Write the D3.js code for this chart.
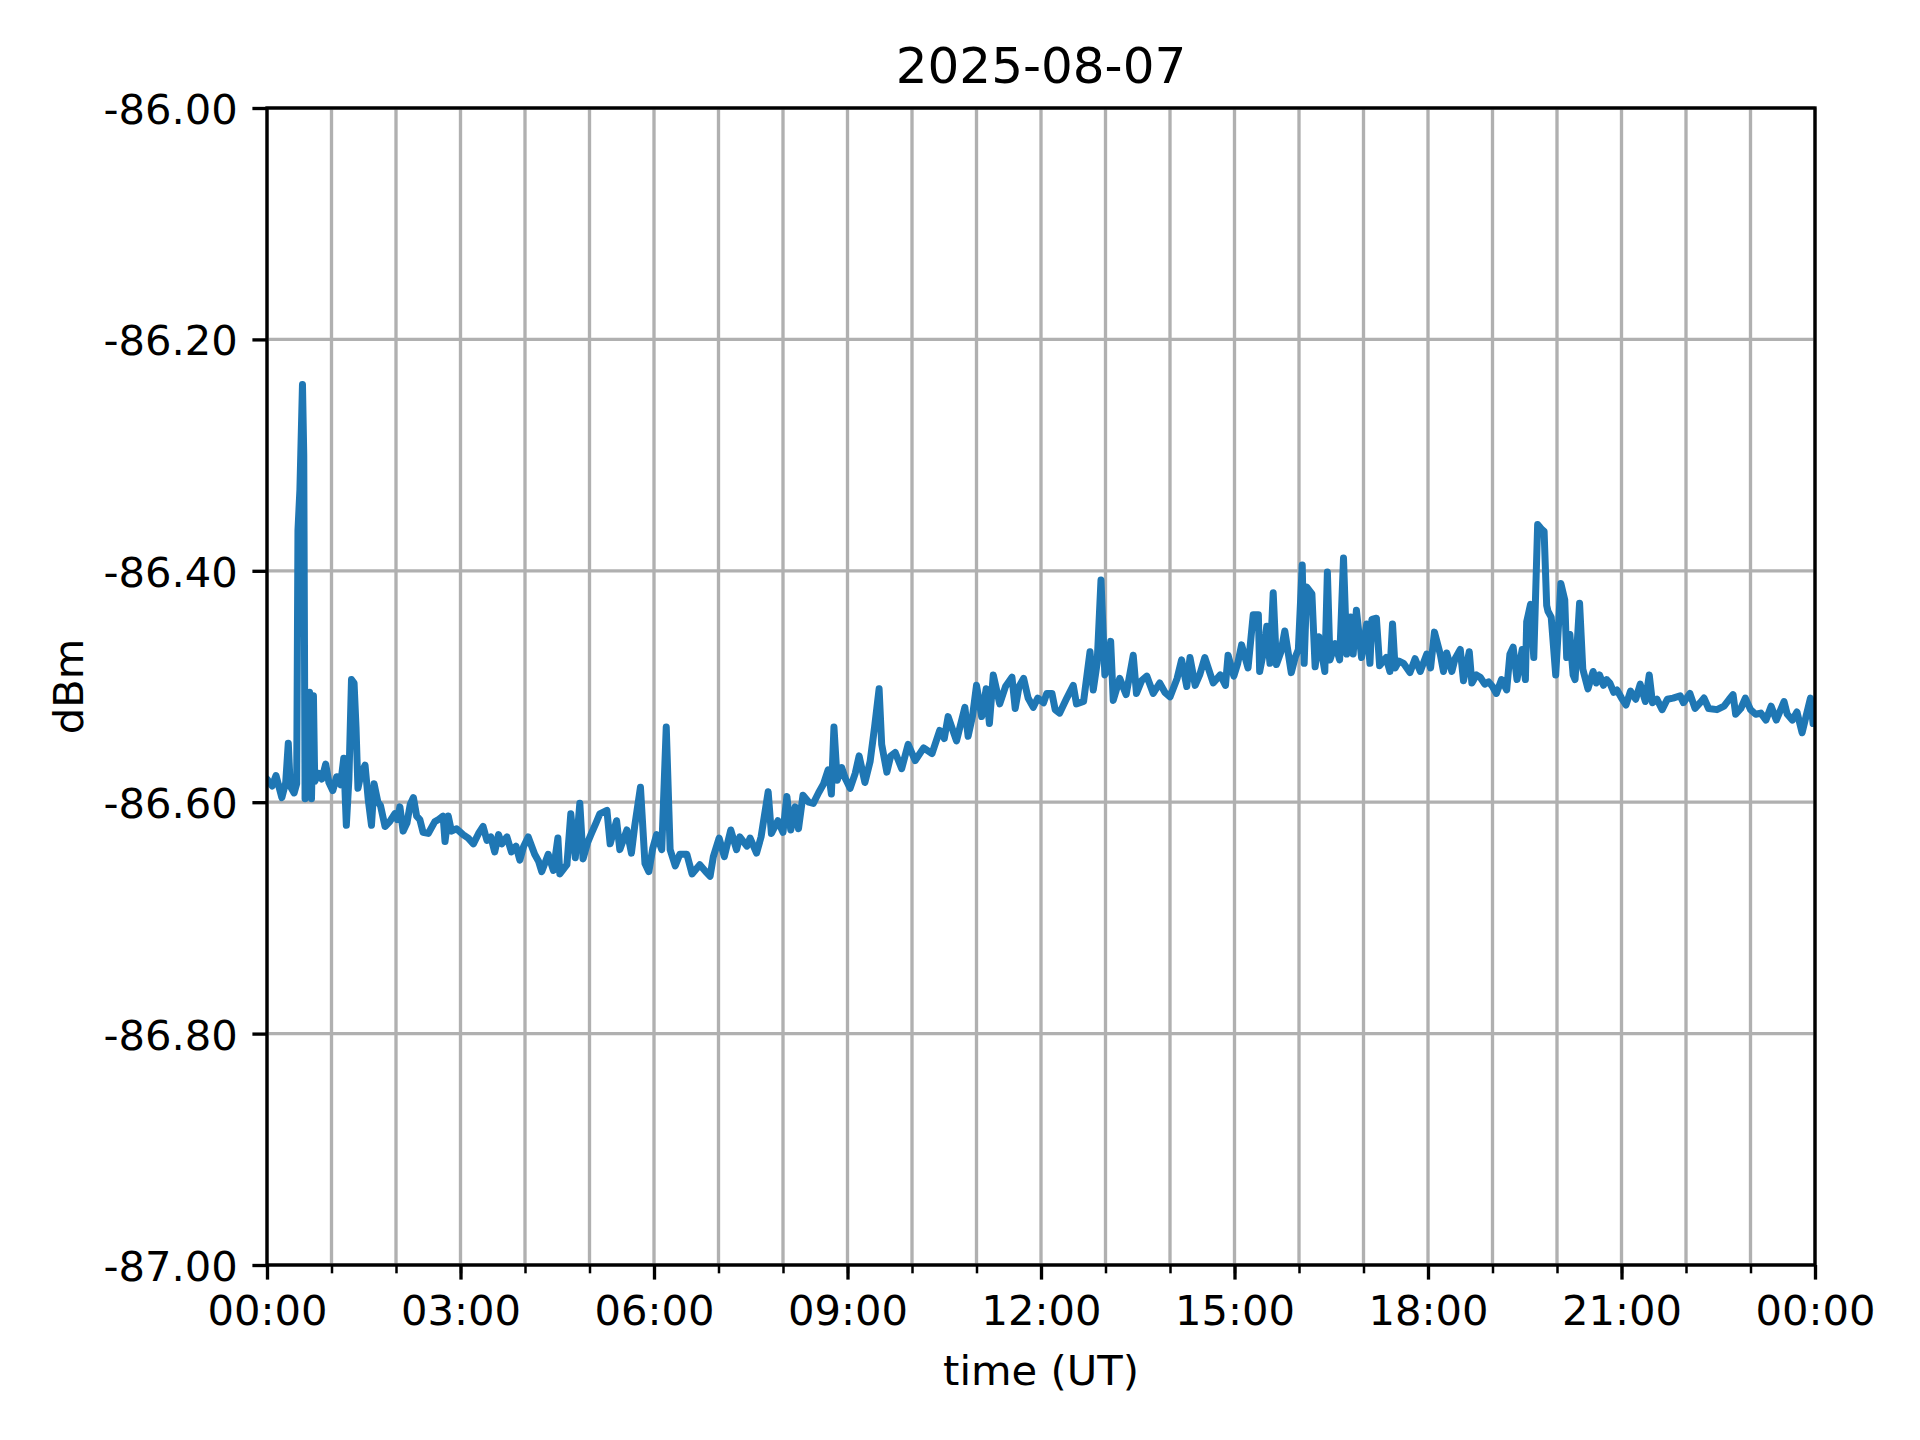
<!DOCTYPE html>
<html>
<head>
<meta charset="utf-8">
<script src="https://cdn.jsdelivr.net/npm/d3@7"></script>
<style>
  body { margin: 0; background: #fff; }
  text { font-family: "DejaVu Sans", sans-serif; fill: #000; }
</style>
</head>
<body>
<div id="chart"></div>
<script>
// values: hour of day (UT) and level in dBm
const hours = [
  0.00, 0.08, 0.14, 0.23, 0.29, 0.33, 0.36, 0.42, 0.46, 0.48, 0.51, 0.55, 0.57, 0.59, 0.63, 0.66, 0.69, 0.72, 0.74, 0.80,
  0.85, 0.91, 0.96, 1.02, 1.08, 1.14, 1.19, 1.23, 1.27, 1.31, 1.35, 1.38, 1.41, 1.46, 1.52, 1.57, 1.62, 1.66, 1.72, 1.76,
  1.83, 1.90, 1.98, 2.02, 2.06, 2.11, 2.17, 2.22, 2.27, 2.32, 2.37, 2.42, 2.50, 2.60, 2.66, 2.73, 2.76, 2.81, 2.86, 2.94,
  3.04, 3.12, 3.20, 3.28, 3.35, 3.41, 3.47, 3.53, 3.59, 3.64, 3.72, 3.79, 3.86, 3.92, 3.98, 4.05, 4.15, 4.21, 4.26, 4.36,
  4.44, 4.51, 4.54, 4.65, 4.71, 4.78, 4.85, 4.90, 4.97, 5.03, 5.10, 5.16, 5.27, 5.32, 5.42, 5.47, 5.58, 5.65, 5.70, 5.79,
  5.86, 5.92, 5.98, 6.04, 6.12, 6.19, 6.25, 6.33, 6.40, 6.51, 6.59, 6.71, 6.80, 6.87, 6.92, 7.01, 7.09, 7.19, 7.28, 7.33,
  7.44, 7.49, 7.59, 7.66, 7.77, 7.82, 7.92, 8.00, 8.06, 8.12, 8.19, 8.24, 8.31, 8.40, 8.47, 8.55, 8.63, 8.70, 8.75, 8.79,
  8.84, 8.91, 8.97, 9.04, 9.12, 9.18, 9.27, 9.35, 9.42, 9.49, 9.53, 9.61, 9.67, 9.74, 9.84, 9.94, 10.05, 10.18, 10.31, 10.43,
  10.50, 10.56, 10.69, 10.82, 10.87, 10.94, 11.00, 11.08, 11.15, 11.20, 11.26, 11.36, 11.45, 11.55, 11.60, 11.66, 11.73, 11.80, 11.88, 11.95,
  12.04, 12.09, 12.17, 12.22, 12.29, 12.40, 12.50, 12.55, 12.66, 12.76, 12.81, 12.87, 12.93, 12.99, 13.04, 13.08, 13.12, 13.22, 13.32, 13.43,
  13.48, 13.56, 13.64, 13.74, 13.84, 13.92, 14.00, 14.11, 14.18, 14.26, 14.31, 14.39, 14.46, 14.54, 14.67, 14.78, 14.86, 14.90, 14.99, 15.05,
  15.11, 15.21, 15.29, 15.37, 15.39, 15.45, 15.50, 15.55, 15.60, 15.65, 15.72, 15.78, 15.88, 15.94, 15.99, 16.05, 16.08, 16.12, 16.20, 16.25,
  16.31, 16.40, 16.44, 16.48, 16.56, 16.63, 16.69, 16.74, 16.80, 16.84, 16.89, 16.97, 17.05, 17.10, 17.13, 17.20, 17.25, 17.35, 17.41, 17.45,
  17.49, 17.55, 17.62, 17.72, 17.80, 17.88, 17.98, 18.04, 18.10, 18.19, 18.24, 18.29, 18.37, 18.42, 18.50, 18.55, 18.64, 18.68, 18.75, 18.81,
  18.88, 18.94, 19.00, 19.06, 19.14, 19.22, 19.27, 19.32, 19.38, 19.46, 19.51, 19.53, 19.59, 19.64, 19.70, 19.73, 19.76, 19.80, 19.84, 19.86,
  19.91, 19.98, 20.06, 20.12, 20.15, 20.20, 20.25, 20.28, 20.35, 20.40, 20.48, 20.56, 20.61, 20.66, 20.72, 20.77, 20.82, 20.88, 20.93, 21.00,
  21.07, 21.14, 21.22, 21.29, 21.37, 21.43, 21.48, 21.55, 21.63, 21.71, 21.80, 21.91, 21.96, 22.06, 22.14, 22.22, 22.28, 22.35, 22.48, 22.59,
  22.67, 22.73, 22.77, 22.85, 22.92, 23.00, 23.08, 23.16, 23.24, 23.32, 23.40, 23.52, 23.57, 23.65, 23.72, 23.80, 23.86, 23.93, 23.97, 24.00
];
const dbm = [
  -86.580, -86.586, -86.577, -86.596, -86.583, -86.549, -86.586, -86.592, -86.584, -86.365, -86.330, -86.239, -86.300, -86.597, -86.560, -86.505, -86.597, -86.508, -86.582, -86.575,
  -86.580, -86.567, -86.583, -86.590, -86.578, -86.585, -86.562, -86.620, -86.580, -86.494, -86.497, -86.535, -86.588, -86.575, -86.568, -86.598, -86.620, -86.584, -86.600, -86.603,
  -86.621, -86.617, -86.610, -86.615, -86.604, -86.625, -86.618, -86.602, -86.596, -86.612, -86.615, -86.626, -86.627, -86.617, -86.615, -86.612, -86.634, -86.612, -86.625, -86.623,
  -86.628, -86.631, -86.636, -86.627, -86.621, -86.633, -86.630, -86.643, -86.628, -86.636, -86.630, -86.643, -86.638, -86.650, -86.638, -86.630, -86.645, -86.651, -86.660, -86.645,
  -86.659, -86.631, -86.662, -86.654, -86.610, -86.648, -86.601, -86.649, -86.635, -86.627, -86.618, -86.610, -86.607, -86.636, -86.616, -86.641, -86.624, -86.644, -86.621, -86.587,
  -86.653, -86.660, -86.640, -86.628, -86.641, -86.535, -86.641, -86.655, -86.645, -86.645, -86.662, -86.654, -86.660, -86.664, -86.647, -86.631, -86.647, -86.624, -86.641, -86.630,
  -86.638, -86.631, -86.644, -86.630, -86.591, -86.627, -86.616, -86.626, -86.595, -86.624, -86.604, -86.623, -86.594, -86.600, -86.601, -86.592, -86.584, -86.572, -86.593, -86.535,
  -86.581, -86.570, -86.580, -86.588, -86.575, -86.560, -86.583, -86.565, -86.535, -86.502, -86.550, -86.574, -86.560, -86.557, -86.571, -86.550, -86.564, -86.553, -86.558, -86.538,
  -86.545, -86.526, -86.547, -86.518, -86.543, -86.525, -86.499, -86.526, -86.502, -86.532, -86.490, -86.515, -86.500, -86.492, -86.519, -86.500, -86.493, -86.510, -86.518, -86.510,
  -86.514, -86.506, -86.506, -86.520, -86.523, -86.510, -86.499, -86.515, -86.513, -86.470, -86.503, -86.480, -86.408, -86.490, -86.480, -86.461, -86.512, -86.493, -86.507, -86.473,
  -86.506, -86.495, -86.491, -86.506, -86.497, -86.505, -86.509, -86.493, -86.477, -86.500, -86.475, -86.499, -86.490, -86.475, -86.497, -86.490, -86.499, -86.473, -86.491, -86.480,
  -86.464, -86.484, -86.438, -86.438, -86.487, -86.470, -86.448, -86.480, -86.419, -86.481, -86.470, -86.452, -86.488, -86.475, -86.468, -86.395, -86.480, -86.414, -86.420, -86.483,
  -86.457, -86.487, -86.401, -86.477, -86.463, -86.477, -86.389, -86.472, -86.440, -86.472, -86.434, -86.475, -86.446, -86.480, -86.442, -86.441, -86.482, -86.475, -86.487, -86.446,
  -86.484, -86.478, -86.480, -86.488, -86.476, -86.487, -86.472, -86.484, -86.453, -86.472, -86.487, -86.471, -86.487, -86.476, -86.468, -86.495, -86.470, -86.497, -86.490, -86.492,
  -86.498, -86.496, -86.500, -86.506, -86.494, -86.503, -86.472, -86.466, -86.494, -86.468, -86.494, -86.444, -86.429, -86.475, -86.360, -86.362, -86.364, -86.366, -86.430, -86.435,
  -86.440, -86.490, -86.411, -86.425, -86.475, -86.455, -86.490, -86.494, -86.428, -86.485, -86.502, -86.487, -86.497, -86.490, -86.499, -86.494, -86.497, -86.505, -86.503, -86.510,
  -86.516, -86.504, -86.511, -86.498, -86.513, -86.490, -86.514, -86.511, -86.520, -86.511, -86.510, -86.508, -86.514, -86.506, -86.519, -86.514, -86.510, -86.519, -86.520, -86.517,
  -86.511, -86.507, -86.524, -86.519, -86.510, -86.520, -86.524, -86.523, -86.529, -86.517, -86.529, -86.513, -86.524, -86.529, -86.522, -86.540, -86.526, -86.510, -86.532, -86.528
];

const yTicks = [-87.0, -86.8, -86.6, -86.4, -86.2, -86.0];
const majorHours = [0, 3, 6, 9, 12, 15, 18, 21, 24];
const minorHours = d3.range(0, 25);
const day0 = Date.UTC(2025, 7, 7);
const title = "2025-08-07";

let width = 1920,
  height = 1440,
  margin = {"top": 108, "bottom": 175, "left": 267, "right": 105};

const toDate = (h) => new Date(day0 + h * 3600 * 1000);

let data = hours.map((h, i) => ({t: toDate(h), v: dbm[i]}));

let x = d3.scaleUtc()
  .domain([toDate(0), toDate(24)])
  .range([margin.left, width - margin.right]);

let y = d3.scaleLinear()
  .domain([-87, -86])
  .range([height - margin.bottom, margin.top]);

const svg = d3.select("#chart")
  .append("svg")
  .attr("width", width)
  .attr("height", height);

svg.append("rect")
  .attr("width", width)
  .attr("height", height)
  .attr("fill", "#fff");

// grid (every hour on x, every 0.2 on y)
const grid = svg.append("g").attr("stroke", "#b0b0b0").attr("stroke-width", 3.33);
grid.selectAll(".gx")
  .data(minorHours)
  .enter()
  .append("line")
  .attr("x1", (h) => x(toDate(h)))
  .attr("x2", (h) => x(toDate(h)))
  .attr("y1", y(-87))
  .attr("y2", y(-86));
grid.selectAll(".gy")
  .data(yTicks)
  .enter()
  .append("line")
  .attr("x1", x(toDate(0)))
  .attr("x2", x(toDate(24)))
  .attr("y1", (d) => y(d))
  .attr("y2", (d) => y(d));

svg.append("clipPath")
  .attr("id", "clip")
  .append("rect")
  .attr("x", margin.left)
  .attr("y", margin.top)
  .attr("width", width - margin.left - margin.right)
  .attr("height", height - margin.top - margin.bottom);

const line = d3.line()
  .x((d) => x(d.t))
  .y((d) => y(d.v));

svg.append("path")
  .datum(data)
  .attr("clip-path", "url(#clip)")
  .attr("d", line)
  .attr("fill", "none")
  .attr("stroke", "#1f77b4")
  .attr("stroke-width", 7)
  .attr("stroke-linejoin", "round")
  .attr("stroke-linecap", "round");

// axes
const xMinor = d3.axisBottom(x)
  .tickValues(minorHours.map(toDate))
  .tickSize(8.33)
  .tickSizeOuter(0)
  .tickFormat("");

const xAxis = d3.axisBottom(x)
  .tickValues(majorHours.map(toDate))
  .tickFormat(d3.utcFormat("%H:%M"))
  .tickSize(14.6)
  .tickSizeOuter(0)
  .tickPadding(16);

const yAxis = d3.axisLeft(y)
  .tickValues(yTicks)
  .tickFormat((d) => d.toFixed(2))
  .tickSize(14.6)
  .tickSizeOuter(0)
  .tickPadding(14.6);

const gMinor = svg.append("g")
  .attr("transform", "translate(0, " + (height - margin.bottom) + ")")
  .call(xMinor);
gMinor.selectAll(".tick line").attr("stroke", "#000").attr("stroke-width", 2.5);

const gx = svg.append("g")
  .attr("id", "x-axis")
  .attr("transform", "translate(0, " + (height - margin.bottom) + ")")
  .call(xAxis);

const gy = svg.append("g")
  .attr("id", "y-axis")
  .attr("transform", "translate(" + margin.left + ", 0)")
  .call(yAxis);

svg.selectAll(".domain").remove();
[gx, gy].forEach((g) => {
  g.selectAll(".tick line").attr("stroke", "#000").attr("stroke-width", 3.33);
  g.selectAll(".tick text")
    .style("font-size", "41.67px")
    .style("font-family", "DejaVu Sans")
    .attr("fill", "#000");
});
gy.selectAll(".tick text").attr("dy", "0.37em");

// spines
svg.append("rect")
  .attr("x", margin.left)
  .attr("y", margin.top)
  .attr("width", width - margin.left - margin.right)
  .attr("height", height - margin.top - margin.bottom)
  .attr("fill", "none")
  .attr("stroke", "#000")
  .attr("stroke-width", 3.33);

svg.append("text")
  .text(title)
  .attr("x", (margin.left + width - margin.right) / 2)
  .attr("y", 83)
  .attr("text-anchor", "middle")
  .style("font-size", "50px");

svg.append("text")
  .text("time (UT)")
  .attr("x", (margin.left + width - margin.right) / 2)
  .attr("y", 1385)
  .attr("text-anchor", "middle")
  .style("font-size", "41.67px");

svg.append("text")
  .text("dBm")
  .attr("transform", "translate(83, " + (margin.top + height - margin.bottom) / 2 + ") rotate(-90)")
  .attr("text-anchor", "middle")
  .style("font-size", "41.67px");
</script>
</body>
</html>
